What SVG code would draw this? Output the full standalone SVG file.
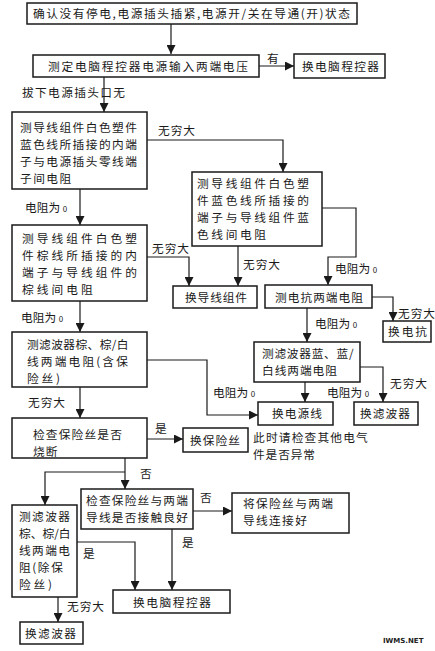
<svg xmlns="http://www.w3.org/2000/svg" width="435" height="651" viewBox="0 0 435 651">
<style>
.box{fill:#fff;stroke:#1a1a1a;stroke-width:1.5}
.t{font-family:"Noto Sans CJK SC","Noto Sans CJK JP",sans-serif;font-size:11.7px;fill:#1a1a1a}
.l{font-family:"Noto Sans CJK SC","Noto Sans CJK JP",sans-serif;font-size:11.7px;fill:#1a1a1a}
.z{font-size:8px}
.c{fill:none;stroke:#1a1a1a;stroke-width:1.2}
.wm{font-family:"DejaVu Sans",sans-serif;font-size:7px;font-weight:bold;fill:#222}
</style>
<defs>
<marker id="ah" markerUnits="userSpaceOnUse" markerWidth="10" markerHeight="9" refX="9" refY="4.5" orient="auto">
<path d="M0,0 L9,4.5 L0,9 z" fill="#1a1a1a"/>
</marker>
</defs>
<rect width="435" height="651" fill="#fff"/>

<g id="connectors">
<path class="c" d="M171,24 V54" marker-end="url(#ah)"/>
<path class="c" d="M259,66 H294" marker-end="url(#ah)"/>
<path class="c" d="M104,77 V112" marker-end="url(#ah)"/>
<path class="c" d="M147,140 H283 V172" marker-end="url(#ah)"/>
<path class="c" d="M322,208 H356 V257 H328 V285" marker-end="url(#ah)"/>
<path class="c" d="M238,246 V286" marker-end="url(#ah)"/>
<path class="c" d="M80,189 V225" marker-end="url(#ah)"/>
<path class="c" d="M147,257 H189 V286" marker-end="url(#ah)"/>
<path class="c" d="M372,297 H393 V321" marker-end="url(#ah)"/>
<path class="c" d="M307,308 V342" marker-end="url(#ah)"/>
<path class="c" d="M80,301 V332" marker-end="url(#ah)"/>
<path class="c" d="M147,360 H207 V415 H258" marker-end="url(#ah)"/>
<path class="c" d="M305,382 V402" marker-end="url(#ah)"/>
<path class="c" d="M360,367 H383 V402" marker-end="url(#ah)"/>
<path class="c" d="M80,387 V418" marker-end="url(#ah)"/>
<path class="c" d="M147,439 H183" marker-end="url(#ah)"/>
<path class="c" d="M125,458 V489" marker-end="url(#ah)"/>
<path class="c" d="M125,472 H45 V505" marker-end="url(#ah)"/>
<path class="c" d="M193,511 H232" marker-end="url(#ah)"/>
<path class="c" d="M172,529 V590" marker-end="url(#ah)"/>
<path class="c" d="M77,542 H135 V590" marker-end="url(#ah)"/>
<path class="c" d="M58,597 V622" marker-end="url(#ah)"/>
</g>

<g id="labels">
<text class="l" x="267" y="63">有</text>
<text class="l" x="22" y="97" textLength="103">拔下电源插头口无</text>
<text class="l" x="158" y="135" textLength="37">无穷大</text>
<text class="l" x="335" y="273">电阻为 <tspan class="z">0</tspan></text>
<text class="l" x="243" y="269" textLength="37">无穷大</text>
<text class="l" x="25" y="212">电阻为 <tspan class="z">0</tspan></text>
<text class="l" x="152" y="253" textLength="37">无穷大</text>
<text class="l" x="398" y="318" textLength="37">无穷大</text>
<text class="l" x="315" y="328">电阻为 <tspan class="z">0</tspan></text>
<text class="l" x="21" y="322">电阻为 <tspan class="z">0</tspan></text>
<text class="l" x="213" y="397">电阻为 <tspan class="z">0</tspan></text>
<text class="l" x="327" y="397">电阻为 <tspan class="z">0</tspan></text>
<text class="l" x="390" y="388" textLength="37">无穷大</text>
<text class="l" x="28" y="407" textLength="37">无穷大</text>
<text class="l" x="155" y="433">是</text>
<text class="l" x="140" y="478">否</text>
<text class="l" x="200" y="502">否</text>
<text class="l" x="182" y="547">是</text>
<text class="l" x="83" y="558">是</text>
<text class="l" x="67" y="611" textLength="37">无穷大</text>
<text class="l"><tspan x="253" y="442" letter-spacing="1.2">此时请检查其他电气</tspan><tspan x="253" y="459" letter-spacing="0.9">件是否异常</tspan></text>
</g>

<g id="n1">
<rect class="box" x="27" y="3" width="330" height="21"/>
<text class="t" x="33" y="18" textLength="317">确认没有停电,电源插头插紧,电源开/关在导通(开)状态</text>
</g>
<g id="n2">
<rect class="box" x="33" y="55" width="226" height="22"/>
<text class="t" x="48" y="70.5" textLength="200">测定电脑程控器电源输入两端电压</text>
</g>
<g id="n3">
<rect class="box" x="294" y="54" width="91" height="24"/>
<text class="t" x="302" y="70.5" textLength="77">换电脑程控器</text>
</g>
<g id="n4">
<rect class="box" x="12" y="112" width="135" height="77"/>
<text class="t" letter-spacing="1.46"><tspan x="20" y="132">测导线组件白色塑件</tspan><tspan x="20" y="149">蓝色线所插接的内端</tspan><tspan x="20" y="166">子与电源插头零线端</tspan><tspan x="20" y="183">子间电阻</tspan></text>
</g>
<g id="n5">
<rect class="box" x="192" y="172" width="130" height="74"/>
<text class="t" letter-spacing="2.63"><tspan x="197" y="188">测导线组件白色塑</tspan><tspan x="197" y="205">件蓝色线所插接的</tspan><tspan x="197" y="222">端子与导线组件蓝</tspan><tspan x="197" y="239">色线间电阻</tspan></text>
</g>
<g id="n6">
<rect class="box" x="12" y="225" width="135" height="76"/>
<text class="t" letter-spacing="3.06"><tspan x="22" y="243">测导线组件白色塑</tspan><tspan x="22" y="260">件棕线所插接的内</tspan><tspan x="22" y="277">端子与导线组件的</tspan><tspan x="22" y="294">棕线间电阻</tspan></text>
</g>
<g id="n7">
<rect class="box" x="173" y="286" width="84" height="22"/>
<text class="t" x="185" y="302" textLength="62">换导线组件</text>
</g>
<g id="n8">
<rect class="box" x="265" y="285" width="107" height="23"/>
<text class="t" x="275" y="301.5" textLength="88">测电抗两端电阻</text>
</g>
<g id="n9">
<rect class="box" x="383" y="321" width="48" height="21"/>
<text class="t" x="388" y="336" textLength="39">换电抗</text>
</g>
<g id="n10">
<rect class="box" x="12" y="332" width="135" height="55"/>
<text class="t"><tspan x="27" y="349" letter-spacing="0.43">测滤波器棕、棕/白</tspan><tspan x="27" y="366" letter-spacing="2.16">线两端电阻(含保</tspan><tspan x="27" y="383" letter-spacing="2.8">险丝)</tspan></text>
</g>
<g id="n11">
<rect class="box" x="254" y="342" width="106" height="40"/>
<text class="t"><tspan x="262" y="358" letter-spacing="0.73">测滤波器蓝、蓝/</tspan><tspan x="262" y="375" letter-spacing="0.96">白线两端电阻</tspan></text>
</g>
<g id="n12">
<rect class="box" x="258" y="402" width="75" height="23"/>
<text class="t" x="272" y="417.5" textLength="50">换电源线</text>
</g>
<g id="n13">
<rect class="box" x="354" y="402" width="64" height="23"/>
<text class="t" x="360" y="417.5" textLength="50">换滤波器</text>
</g>
<g id="n14">
<rect class="box" x="12" y="418" width="135" height="40"/>
<text class="t" letter-spacing="1.18"><tspan x="33" y="439">检查保险丝是否</tspan><tspan x="33" y="456">烧断</tspan></text>
</g>
<g id="n15">
<rect class="box" x="183" y="428" width="65" height="24"/>
<text class="t" x="190" y="444.5" textLength="50">换保险丝</text>
</g>
<g id="n16">
<rect class="box" x="81" y="489" width="112" height="40"/>
<text class="t" letter-spacing="1.2"><tspan x="86" y="505">检查保险丝与两端</tspan><tspan x="86" y="522">导线是否接触良好</tspan></text>
</g>
<g id="n17">
<rect class="box" x="232" y="493" width="117" height="40"/>
<text class="t" letter-spacing="1.35"><tspan x="243" y="508">将保险丝与两端</tspan><tspan x="243" y="525">导线连接好</tspan></text>
</g>
<g id="n18">
<rect class="box" x="12" y="505" width="65" height="92"/>
<text class="t"><tspan x="19" y="521" letter-spacing="1.4">测滤波器</tspan><tspan x="19" y="538" letter-spacing="0.05">棕、棕/白</tspan><tspan x="19" y="555" letter-spacing="1.4">线两端电</tspan><tspan x="19" y="572" letter-spacing="1.6">阻(除保</tspan><tspan x="19" y="589" letter-spacing="2.8">险丝)</tspan></text>
</g>
<g id="n19">
<rect class="box" x="113" y="590" width="117" height="23"/>
<text class="t" x="133" y="607" textLength="78">换电脑程控器</text>
</g>
<g id="n20">
<rect class="box" x="20" y="622" width="63" height="22"/>
<text class="t" x="25" y="637.5" textLength="51">换滤波器</text>
</g>
<text class="wm" x="383" y="643">IWMS.NET</text>
</svg>
